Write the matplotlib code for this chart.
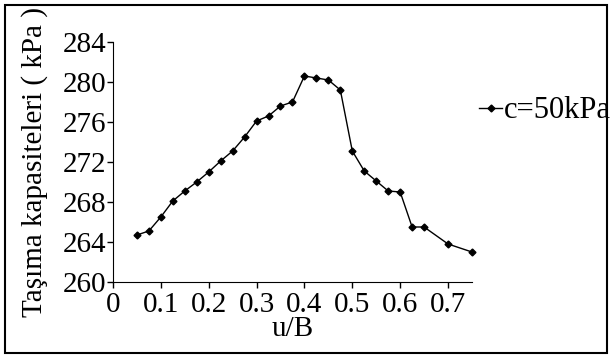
import matplotlib.pyplot as plt
from matplotlib.patches import Rectangle

# u/B ratio and bearing capacity (kPa), c = 50 kPa
u_b = [0.05, 0.075, 0.1, 0.125, 0.15, 0.175, 0.2, 0.225, 0.25, 0.275,
       0.3, 0.325, 0.35, 0.375, 0.4, 0.425, 0.45, 0.475, 0.5, 0.525,
       0.55, 0.575, 0.6, 0.625, 0.65, 0.7, 0.75]
capacity = [264.7, 265.1, 266.5, 268.1, 269.1, 270.0, 271.0, 272.1, 273.1, 274.5,
            276.1, 276.6, 277.6, 278.0, 280.6, 280.4, 280.2, 279.2, 273.1, 271.1,
            270.1, 269.1, 269.0, 265.5, 265.5, 263.8, 263.0]
series_label = 'c=50kPa'
x_ticks = [0, 0.1, 0.2, 0.3, 0.4, 0.5, 0.6, 0.7]
x_tick_labels = ['0', '0.1', '0.2', '0.3', '0.4', '0.5', '0.6', '0.7']
y_ticks = [260, 264, 268, 272, 276, 280, 284]

plt.rcParams['font.family'] = ['Liberation Serif', 'DejaVu Serif']

fig = plt.figure(figsize=(6.1, 3.58), dpi=100)
ax = fig.add_axes([0.1852, 0.2123, 0.5885, 0.6704])

ax.plot(u_b, capacity, color='black', linewidth=1.0, marker='D',
        markersize=3.5, clip_on=False, label=series_label)

ax.set_xlim(0, 0.75)
ax.set_ylim(260, 284)
ax.set_xticks(x_ticks)
ax.set_xticklabels(x_tick_labels)
ax.set_yticks(y_ticks)
ax.tick_params(direction='out', length=4, width=1, labelsize=21, pad=1)
ax.tick_params(axis='x', pad=3)

ax.spines['top'].set_visible(False)
ax.spines['right'].set_visible(False)

ax.set_xlabel('u/B', fontsize=21, labelpad=-1)
ax.set_ylabel('Taşıma kapasiteleri ( kPa )', fontsize=21, labelpad=10)

ax.legend(loc='center left', bbox_to_anchor=(0.766, 0.69),
          bbox_transform=fig.transFigure, frameon=False, fontsize=22,
          handlelength=0.75, handletextpad=0.05, borderaxespad=0)

# outer frame around the whole chart
fig.patches.append(Rectangle((0.009, 0.014), 0.986, 0.972, transform=fig.transFigure,
                             fill=False, edgecolor='black', linewidth=1.5))

fig.savefig('out.png', dpi=100)
